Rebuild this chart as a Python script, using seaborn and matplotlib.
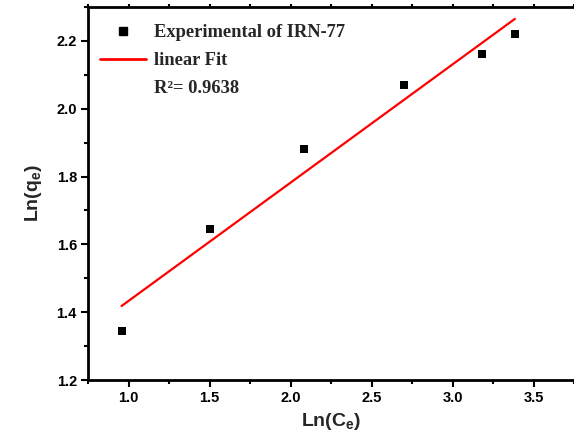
import numpy as np
import pandas as pd
import matplotlib
matplotlib.use("Agg")
import matplotlib.pyplot as plt
import seaborn as sns
from matplotlib.lines import Line2D

# Data
ln_ce = [0.957, 1.506, 2.086, 2.700, 3.180, 3.385]
ln_qe = [1.344, 1.644, 1.882, 2.071, 2.162, 2.221]
x_ticks = [1.0, 1.5, 2.0, 2.5, 3.0, 3.5]
y_ticks = [1.2, 1.4, 1.6, 1.8, 2.0, 2.2]
series_label = "Experimental of IRN-77"
fit_label = "linear Fit"
r2_label = "R\u00b2= 0.9638"

df = pd.DataFrame({"x": ln_ce, "y": ln_qe})

sns.set_theme(style="ticks")
plt.rcParams['font.family'] = ['Liberation Sans', 'DejaVu Sans']
plt.rcParams['font.weight'] = 'bold'
plt.rcParams['mathtext.fontset'] = 'custom'
plt.rcParams['mathtext.rm'] = 'Liberation Sans:bold'
plt.rcParams['mathtext.bf'] = 'Liberation Sans:bold'
plt.rcParams['mathtext.it'] = 'Liberation Sans:bold'
plt.rcParams['mathtext.default'] = 'rm'

fig = plt.figure(figsize=(5.74, 4.44), dpi=100)
ax = fig.add_axes([88 / 574, 64 / 444, (574 - 88) / 574, (380 - 7) / 444])

sns.regplot(data=df, x="x", y="y", ax=ax, scatter=False, ci=None, truncate=True,
            line_kws=dict(color="#ff0000", lw=1.6))
sns.scatterplot(data=df, x="x", y="y", ax=ax, marker="s", s=36, color="black",
                edgecolor="black", linewidth=0, zorder=3)

ax.set_xlim(0.75, 3.75)
ax.set_ylim(1.2, 2.3)
ax.set_xticks(x_ticks)
ax.set_yticks(y_ticks)
ax.set_xticks(np.arange(0.75, 3.76, 0.5), minor=True)
ax.set_yticks(np.arange(1.3, 2.31, 0.2), minor=True)
ax.set_xticklabels([f"{v:.1f}" for v in x_ticks], fontweight="bold", fontsize=10.5)
ax.set_yticklabels([f"{v:.1f}" for v in y_ticks], fontweight="bold", fontsize=10.5)

ax.tick_params(which="major", direction="out", length=5, width=1.5, colors="black", pad=3)
ax.tick_params(which="minor", direction="out", length=3, width=1.5, colors="black")
ax.tick_params(axis="x", which="both", top=True, labeltop=False)
for t in ax.xaxis.get_major_ticks() + ax.xaxis.get_minor_ticks():
    t.tick2line.set_markersize(2)

for side in ["left", "bottom", "top"]:
    ax.spines[side].set_linewidth(2)
    ax.spines[side].set_color("black")
ax.spines["right"].set_visible(False)

ax.set_xlabel("Ln(C$_{e}$)", fontsize=14, fontweight="bold", labelpad=4)
ax.set_ylabel("Ln(q$_{e}$)", fontsize=14, fontweight="bold", labelpad=9)

handles = [
    Line2D([], [], marker="s", linestyle="none", color="black", markersize=6),
    Line2D([], [], color="#ff0000", lw=2),
    Line2D([], [], linestyle="none"),
]
labels = [series_label, fit_label, r2_label]
leg = ax.legend(handles, labels, loc="upper left", bbox_to_anchor=(-0.009, 0.998),
                frameon=False, handlelength=2.5, handletextpad=0.4, labelspacing=0.58,
                prop=dict(family=["Liberation Serif", "DejaVu Serif"], weight="bold", size=13.3))

fig.savefig("out.png", dpi=100)
